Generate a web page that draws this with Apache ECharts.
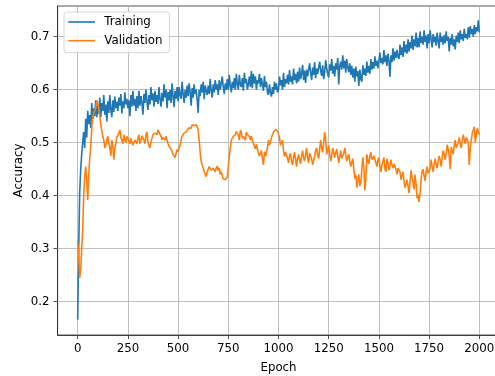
<!DOCTYPE html>
<html>
<head>
<meta charset="utf-8">
<script src="https://cdn.jsdelivr.net/npm/echarts@6.0.0/dist/echarts.min.js"></script>
<style>
html,body{margin:0;padding:0;background:#fff;}
#chart{width:495px;height:376px;}
</style>
</head>
<body>
<div id="chart"></div>
<script>
const seriesNames = ["Training", "Validation"];

const xTicks = [0, 250, 500, 750, 1000, 1250, 1500, 1750, 2000];
const yTicks = [0.2, 0.3, 0.4, 0.5, 0.6, 0.7];

// Training accuracy, read every 5 epochs (0..2000)
const TRAIN_STEP = 5;
const training = [
  0.166, 0.30, 0.405, 0.45, 0.478, 0.50, 0.52, 0.49, 0.545, 0.51,
  0.56, 0.535, 0.552, 0.528, 0.575, 0.545, 0.565, 0.55, 0.58, 0.548,
  0.57, 0.555, 0.585, 0.548, 0.575, 0.56, 0.59, 0.553, 0.572, 0.54,
  0.578, 0.556, 0.59, 0.562, 0.548, 0.58, 0.558, 0.587, 0.565, 0.577,
  0.56, 0.585, 0.57, 0.592, 0.555, 0.578, 0.565, 0.595, 0.572, 0.583,
  0.565, 0.58, 0.55, 0.59, 0.568, 0.598, 0.57, 0.583, 0.56, 0.588,
  0.565, 0.598, 0.57, 0.588, 0.575, 0.553, 0.592, 0.575, 0.6, 0.578,
  0.562, 0.59, 0.572, 0.605, 0.58, 0.593, 0.568, 0.598, 0.577, 0.59,
  0.573, 0.605, 0.582, 0.568, 0.594, 0.578, 0.61, 0.585, 0.6, 0.565,
  0.596, 0.58, 0.6, 0.575, 0.612, 0.588, 0.567, 0.598, 0.583, 0.605,
  0.578, 0.605, 0.59, 0.583, 0.615, 0.592, 0.575, 0.6, 0.585, 0.608,
  0.588, 0.612, 0.595, 0.57, 0.603, 0.585, 0.61, 0.592, 0.6, 0.58,
  0.556, 0.6, 0.588, 0.61, 0.595, 0.615, 0.582, 0.608, 0.598, 0.59,
  0.608, 0.592, 0.62, 0.598, 0.585, 0.61, 0.595, 0.618, 0.6, 0.61,
  0.59, 0.618, 0.6, 0.598, 0.625, 0.605, 0.592, 0.612, 0.6, 0.62,
  0.6, 0.628, 0.608, 0.595, 0.615, 0.603, 0.622, 0.6, 0.63, 0.61,
  0.6, 0.628, 0.61, 0.605, 0.622, 0.598, 0.632, 0.612, 0.62, 0.6,
  0.61, 0.625, 0.605, 0.635, 0.603, 0.63, 0.612, 0.625, 0.6, 0.618,
  0.612, 0.63, 0.605, 0.622, 0.61, 0.598, 0.626, 0.605, 0.615, 0.595,
  0.59, 0.61, 0.595, 0.587, 0.605, 0.592, 0.615, 0.6, 0.612, 0.595,
  0.6, 0.625, 0.608, 0.618, 0.6, 0.632, 0.605, 0.62, 0.612, 0.628,
  0.61, 0.637, 0.615, 0.625, 0.61, 0.64, 0.618, 0.63, 0.612, 0.634,
  0.615, 0.642, 0.62, 0.63, 0.647, 0.618, 0.636, 0.613, 0.638, 0.625,
  0.624, 0.65, 0.632, 0.618, 0.642, 0.628, 0.652, 0.622, 0.64, 0.63,
  0.628, 0.653, 0.635, 0.626, 0.646, 0.62, 0.633, 0.656, 0.64, 0.63,
  0.623, 0.648, 0.636, 0.658, 0.63, 0.645, 0.625, 0.65, 0.638, 0.66,
  0.61, 0.645, 0.653, 0.638, 0.665, 0.64, 0.655, 0.632, 0.658, 0.642,
  0.633, 0.65, 0.628, 0.645, 0.623, 0.64, 0.615, 0.643, 0.625, 0.635,
  0.607, 0.638, 0.62, 0.615, 0.646, 0.628, 0.64, 0.626, 0.653, 0.632,
  0.645, 0.63, 0.658, 0.638, 0.652, 0.64, 0.663, 0.645, 0.655, 0.64,
  0.642, 0.67, 0.65, 0.66, 0.648, 0.675, 0.652, 0.665, 0.645, 0.668,
  0.655, 0.624, 0.665, 0.652, 0.678, 0.655, 0.672, 0.66, 0.675, 0.662,
  0.658, 0.685, 0.665, 0.68, 0.662, 0.692, 0.67, 0.685, 0.668, 0.695,
  0.672, 0.69, 0.678, 0.702, 0.675, 0.695, 0.682, 0.708, 0.68, 0.698,
  0.68, 0.71, 0.688, 0.7, 0.685, 0.712, 0.69, 0.702, 0.678, 0.705,
  0.688, 0.712, 0.695, 0.68, 0.705, 0.69, 0.7, 0.683, 0.708, 0.692,
  0.678, 0.708, 0.69, 0.7, 0.685, 0.703, 0.688, 0.71, 0.692, 0.7,
  0.672, 0.698, 0.685, 0.705, 0.682, 0.695, 0.676, 0.702, 0.69, 0.708,
  0.688, 0.712, 0.695, 0.705, 0.692, 0.715, 0.698, 0.705, 0.695, 0.718,
  0.698, 0.72, 0.705, 0.715, 0.7, 0.722, 0.705, 0.718, 0.71, 0.731,
  0.708
];

// Validation accuracy, read every 5 epochs (0..2000)
const VAL_STEP = 5;
const validation = [
  0.314, 0.29, 0.245, 0.26, 0.30, 0.335, 0.40, 0.436, 0.455, 0.43,
  0.392, 0.44, 0.47, 0.493, 0.525, 0.55, 0.55, 0.56, 0.565, 0.58,
  0.578, 0.565, 0.55, 0.535, 0.522, 0.512, 0.505, 0.49, 0.495, 0.505,
  0.512, 0.498, 0.49, 0.475, 0.505, 0.495, 0.468, 0.49, 0.498, 0.51,
  0.51, 0.518, 0.524, 0.51, 0.505, 0.498, 0.515, 0.505, 0.5, 0.512,
  0.512, 0.503, 0.498, 0.508, 0.51, 0.495, 0.495, 0.505, 0.505, 0.498,
  0.508, 0.515, 0.498, 0.505, 0.513, 0.51, 0.505, 0.498, 0.515, 0.52,
  0.5, 0.497, 0.49, 0.502, 0.508, 0.515, 0.512, 0.518, 0.521, 0.515,
  0.524, 0.52, 0.52, 0.512, 0.505, 0.51, 0.51, 0.505, 0.512, 0.505,
  0.498, 0.493, 0.493, 0.488, 0.485, 0.478, 0.477, 0.472, 0.48, 0.487,
  0.483, 0.49, 0.495, 0.505, 0.512, 0.515, 0.518, 0.515, 0.52, 0.524,
  0.524, 0.528, 0.53, 0.527, 0.534, 0.532, 0.532, 0.535, 0.534, 0.53,
  0.524, 0.505, 0.481, 0.465, 0.458, 0.452, 0.45, 0.44, 0.436, 0.445,
  0.448, 0.455, 0.455, 0.448, 0.445, 0.452, 0.449, 0.445, 0.452, 0.456,
  0.447, 0.452, 0.44, 0.445, 0.438, 0.432, 0.434, 0.43, 0.427, 0.435,
  0.455, 0.475, 0.49, 0.505, 0.505, 0.512, 0.512, 0.515, 0.521, 0.518,
  0.515, 0.505, 0.524, 0.52, 0.508, 0.512, 0.512, 0.505, 0.52, 0.515,
  0.518, 0.512, 0.505, 0.512, 0.512, 0.498, 0.493, 0.488, 0.497, 0.487,
  0.487, 0.475, 0.48, 0.485, 0.47, 0.458, 0.483, 0.475, 0.478, 0.49,
  0.505, 0.495, 0.498, 0.51, 0.515, 0.52, 0.519, 0.525, 0.528, 0.522,
  0.522, 0.51, 0.495, 0.5, 0.505, 0.485, 0.474, 0.482, 0.485, 0.47,
  0.462, 0.475, 0.48, 0.465, 0.458, 0.472, 0.482, 0.468, 0.455, 0.47,
  0.478, 0.468, 0.46, 0.475, 0.485, 0.47, 0.465, 0.478, 0.49, 0.472,
  0.462, 0.48, 0.482, 0.47, 0.458, 0.466, 0.475, 0.485, 0.49, 0.478,
  0.47, 0.488, 0.505, 0.49, 0.482, 0.5, 0.52, 0.505, 0.478, 0.485,
  0.495, 0.478, 0.465, 0.475, 0.49, 0.482, 0.472, 0.48, 0.488, 0.475,
  0.462, 0.475, 0.485, 0.47, 0.468, 0.48, 0.49, 0.478, 0.465, 0.472,
  0.478, 0.465, 0.455, 0.462, 0.47, 0.45, 0.432, 0.44, 0.415, 0.428,
  0.44, 0.418, 0.425, 0.45, 0.472, 0.455, 0.41, 0.43, 0.478, 0.465,
  0.46, 0.475, 0.482, 0.468, 0.465, 0.475, 0.475, 0.462, 0.455, 0.468,
  0.472, 0.455, 0.445, 0.458, 0.465, 0.472, 0.45, 0.445, 0.47, 0.462,
  0.448, 0.455, 0.468, 0.458, 0.452, 0.46, 0.462, 0.45, 0.44, 0.452,
  0.455, 0.445, 0.43, 0.438, 0.445, 0.428, 0.415, 0.422, 0.43, 0.418,
  0.405, 0.425, 0.448, 0.435, 0.425, 0.412, 0.44, 0.422, 0.395, 0.402,
  0.388, 0.405, 0.43, 0.445, 0.45, 0.438, 0.428, 0.445, 0.455, 0.442,
  0.44, 0.452, 0.468, 0.455, 0.445, 0.46, 0.47, 0.458, 0.452, 0.465,
  0.475, 0.468, 0.455, 0.472, 0.485, 0.478, 0.468, 0.48, 0.496, 0.488,
  0.475, 0.45, 0.492, 0.485, 0.478, 0.495, 0.505, 0.49, 0.488, 0.5,
  0.51, 0.498, 0.49, 0.505, 0.515, 0.505, 0.498, 0.51, 0.512, 0.5,
  0.458, 0.49, 0.505, 0.518, 0.524, 0.53, 0.5, 0.515, 0.528, 0.52,
  0.515
];

const toPairs = (vals, step) => vals.map((v, i) => [i * step, v]);

const FONT = 'DejaVu Sans';
const FS = 11.8;
const GRID_COLOR = '#b0b0b0';
const SPINE = '#262626';

const chart = echarts.init(document.getElementById('chart'), null, {renderer: 'canvas'});
chart.setOption({
  animation: false,
  backgroundColor: '#ffffff',
  grid: {
    left: 57.6, top: 6, width: 441.8, height: 329,
    outerBoundsMode: 'none', containLabel: false,
    show: true, borderColor: SPINE, borderWidth: 0.8, backgroundColor: 'transparent'
  },
  legend: {
    show: true,
    left: 64, top: 12,
    orient: 'vertical',
    padding: [3.5, 7, 5.5, 4.3],
    itemGap: 5.7,
    itemWidth: 26.7, itemHeight: 1.6,
    backgroundColor: 'rgba(255,255,255,0.8)',
    borderColor: '#cccccc', borderWidth: 0.8, borderRadius: 3,
    textStyle: {fontFamily: FONT, fontSize: FS, color: '#000', lineHeight: 13, padding: [0, 0, 0, 4.3]},
    data: [
      {name: seriesNames[0], icon: 'rect', itemStyle: {color: '#1f77b4'}},
      {name: seriesNames[1], icon: 'rect', itemStyle: {color: '#ff7f0e'}}
    ]
  },
  xAxis: {
    type: 'value', min: -100, max: 2100,
    name: 'Epoch', nameLocation: 'middle', nameGap: 27,
    nameTextStyle: {fontFamily: FONT, fontSize: FS, color: '#000'},
    axisLine: {show: true, onZero: false, lineStyle: {color: SPINE, width: 0.8}},
    axisTick: {show: true, inside: false, length: 4.1, customValues: xTicks, lineStyle: {color: SPINE, width: 0.8}},
    axisLabel: {show: true, margin: 8, customValues: xTicks, fontFamily: FONT, fontSize: FS, color: '#000',
      formatter: v => String(v)},
    splitLine: {show: false}
  },
  yAxis: {
    type: 'value', min: 0.137, max: 0.758,
    name: 'Accuracy', nameLocation: 'middle', nameGap: 33, nameMoveOverlap: false,
    nameTextStyle: {fontFamily: FONT, fontSize: FS, color: '#000'},
    axisLine: {show: true, onZero: false, lineStyle: {color: SPINE, width: 0.8}},
    axisTick: {show: true, inside: false, length: 4.1, customValues: yTicks, lineStyle: {color: SPINE, width: 0.8}},
    axisLabel: {show: true, margin: 8, customValues: yTicks, fontFamily: FONT, fontSize: FS, color: '#000',
      formatter: v => v.toFixed(1)},
    splitLine: {show: false}
  },
  series: [
    {name: '__grid', type: 'line', data: [], z: 1, silent: true,
      markLine: {
        silent: true, z: 1, animation: false, symbol: ['none', 'none'],
        label: {show: false},
        lineStyle: {color: GRID_COLOR, width: 0.8, type: 'solid'},
        emphasis: {disabled: true},
        data: xTicks.map(v => ({xAxis: v})).concat(yTicks.map(v => ({yAxis: v})))
      }},
    {name: seriesNames[0], type: 'line', data: toPairs(training, TRAIN_STEP), showSymbol: false, symbol: 'none',
      lineStyle: {color: '#1f77b4', width: 1.6}, itemStyle: {color: '#1f77b4'}, z: 2},
    {name: seriesNames[1], type: 'line', data: toPairs(validation, VAL_STEP), showSymbol: false, symbol: 'none',
      lineStyle: {color: '#ff7f0e', width: 1.6}, itemStyle: {color: '#ff7f0e'}, z: 3}
  ]
});
</script>
</body>
</html>
